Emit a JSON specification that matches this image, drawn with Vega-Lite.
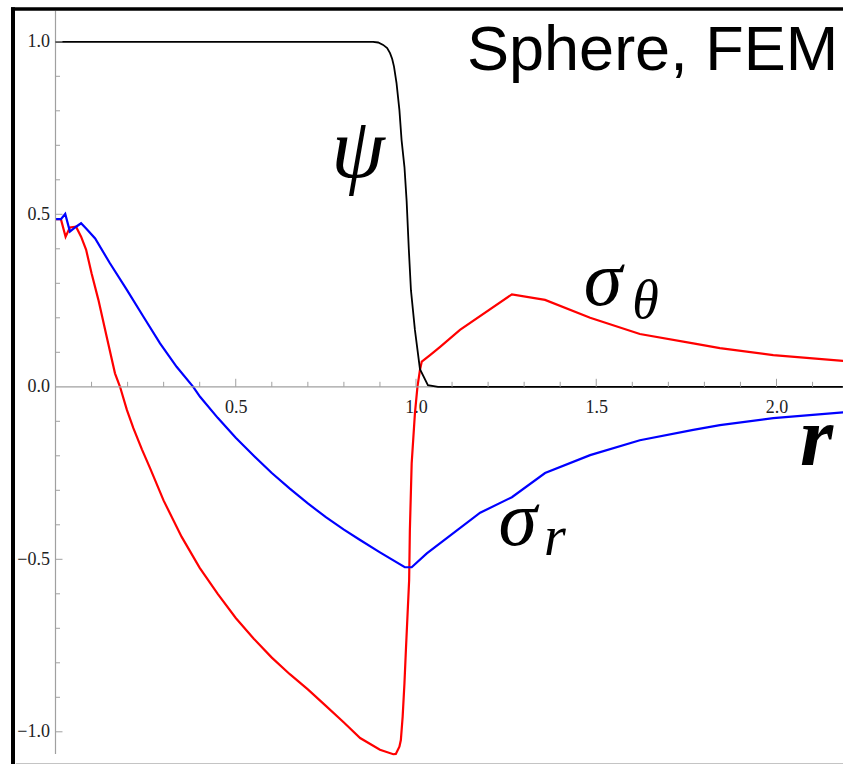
{
  "$schema": "https://vega.github.io/schema/vega-lite/v6.json",
  "width": 830,
  "height": 755,
  "autosize": {"type": "none"},
  "padding": {"left": 13, "top": 9, "right": 0, "bottom": 0},
  "background": "white",
  "config": {"view": {"stroke": null}},
  "datasets": {
    "psi": [
      {"r": 0, "v": 1}, {"r": 0.85, "v": 1}, {"r": 0.881, "v": 1.0}, {"r": 0.895, "v": 0.998},
      {"r": 0.909, "v": 0.991}, {"r": 0.92, "v": 0.982}, {"r": 0.928, "v": 0.967}, {"r": 0.934, "v": 0.95},
      {"r": 0.939, "v": 0.928}, {"r": 0.946, "v": 0.88}, {"r": 0.954, "v": 0.802}, {"r": 0.96, "v": 0.715},
      {"r": 0.968, "v": 0.637}, {"r": 0.974, "v": 0.539}, {"r": 0.98, "v": 0.4}, {"r": 0.986, "v": 0.28},
      {"r": 0.997, "v": 0.165}, {"r": 1.011, "v": 0.051}, {"r": 1.033, "v": 0.005}, {"r": 1.061, "v": 0},
      {"r": 2.184, "v": 0}
    ],
    "sigmaTheta": [
      {"r": 0, "v": 0.486}, {"r": 0.015, "v": 0.486}, {"r": 0.028, "v": 0.435}, {"r": 0.04, "v": 0.462},
      {"r": 0.057, "v": 0.464}, {"r": 0.071, "v": 0.435}, {"r": 0.085, "v": 0.397}, {"r": 0.1, "v": 0.329},
      {"r": 0.119, "v": 0.252}, {"r": 0.142, "v": 0.145}, {"r": 0.165, "v": 0.039}, {"r": 0.179, "v": 0},
      {"r": 0.198, "v": -0.067}, {"r": 0.216, "v": -0.12}, {"r": 0.24, "v": -0.182}, {"r": 0.262, "v": -0.235},
      {"r": 0.3, "v": -0.33}, {"r": 0.35, "v": -0.435}, {"r": 0.4, "v": -0.525}, {"r": 0.45, "v": -0.6},
      {"r": 0.5, "v": -0.67}, {"r": 0.55, "v": -0.73}, {"r": 0.6, "v": -0.785}, {"r": 0.65, "v": -0.833},
      {"r": 0.7, "v": -0.877}, {"r": 0.75, "v": -0.925}, {"r": 0.8, "v": -0.973}, {"r": 0.845, "v": -1.018},
      {"r": 0.9, "v": -1.052}, {"r": 0.937, "v": -1.065}, {"r": 0.944, "v": -1.064}, {"r": 0.954, "v": -1.043},
      {"r": 0.958, "v": -1.024}, {"r": 0.963, "v": -0.956}, {"r": 0.968, "v": -0.859}, {"r": 0.972, "v": -0.763},
      {"r": 0.981, "v": -0.56}, {"r": 0.983, "v": -0.415}, {"r": 0.988, "v": -0.222}, {"r": 0.997, "v": -0.077},
      {"r": 1.004, "v": 0}, {"r": 1.011, "v": 0.049}, {"r": 1.016, "v": 0.073}, {"r": 1.039, "v": 0.092},
      {"r": 1.067, "v": 0.116}, {"r": 1.122, "v": 0.165}, {"r": 1.266, "v": 0.268}, {"r": 1.358, "v": 0.252},
      {"r": 1.483, "v": 0.2}, {"r": 1.621, "v": 0.153}, {"r": 1.769, "v": 0.126}, {"r": 1.843, "v": 0.112},
      {"r": 1.991, "v": 0.092}, {"r": 2.185, "v": 0.075}
    ],
    "sigmaR": [
      {"r": 0, "v": 0.486}, {"r": 0.015, "v": 0.486}, {"r": 0.027, "v": 0.501}, {"r": 0.04, "v": 0.45},
      {"r": 0.057, "v": 0.464}, {"r": 0.071, "v": 0.474}, {"r": 0.085, "v": 0.459}, {"r": 0.11, "v": 0.43},
      {"r": 0.151, "v": 0.358}, {"r": 0.198, "v": 0.281}, {"r": 0.244, "v": 0.203}, {"r": 0.29, "v": 0.126},
      {"r": 0.336, "v": 0.058}, {"r": 0.382, "v": 0}, {"r": 0.401, "v": -0.029}, {"r": 0.45, "v": -0.09},
      {"r": 0.5, "v": -0.148}, {"r": 0.55, "v": -0.2}, {"r": 0.6, "v": -0.25}, {"r": 0.65, "v": -0.295},
      {"r": 0.7, "v": -0.338}, {"r": 0.75, "v": -0.378}, {"r": 0.8, "v": -0.414}, {"r": 0.845, "v": -0.444},
      {"r": 0.9, "v": -0.48}, {"r": 0.969, "v": -0.523}, {"r": 0.988, "v": -0.523}, {"r": 1.03, "v": -0.483},
      {"r": 1.178, "v": -0.365}, {"r": 1.266, "v": -0.32}, {"r": 1.358, "v": -0.25}, {"r": 1.483, "v": -0.198},
      {"r": 1.621, "v": -0.155}, {"r": 1.769, "v": -0.125}, {"r": 1.843, "v": -0.111}, {"r": 1.991, "v": -0.091},
      {"r": 2.185, "v": -0.074}
    ],
    "yMajor": [{"t": -1}, {"t": -0.5}, {"t": 0.5}, {"t": 1}],
    "yMinor": [
      {"t": -0.9}, {"t": -0.8}, {"t": -0.7}, {"t": -0.6}, {"t": -0.4}, {"t": -0.3}, {"t": -0.2}, {"t": -0.1},
      {"t": 0.1}, {"t": 0.2}, {"t": 0.3}, {"t": 0.4}, {"t": 0.6}, {"t": 0.7}, {"t": 0.8}, {"t": 0.9}
    ],
    "xMajor": [{"t": 0.5}, {"t": 1}, {"t": 1.5}, {"t": 2}],
    "xMinor": [
      {"t": 0.1}, {"t": 0.2}, {"t": 0.3}, {"t": 0.4}, {"t": 0.6}, {"t": 0.7}, {"t": 0.8}, {"t": 0.9},
      {"t": 1.1}, {"t": 1.2}, {"t": 1.3}, {"t": 1.4}, {"t": 1.6}, {"t": 1.7}, {"t": 1.8}, {"t": 1.9}, {"t": 2.1}
    ]
  },
  "layer": [
    {
      "description": "Curves: sigma_theta (red), sigma_r (blue), psi (black), with the shared axes",
      "data": {"name": "sigmaTheta"},
      "mark": {"type": "line", "color": "#ff0000", "strokeWidth": 2.2, "clip": true},
      "encoding": {
        "x": {
          "field": "r", "type": "quantitative", "title": null,
          "scale": {"domain": [-0.11789, 2.18447], "nice": false, "zero": false},
          "axis": {
            "orient": "bottom", "offset": -377.2, "values": [0.5, 1, 1.5, 2], "format": ".1f",
            "domain": false, "ticks": false, "grid": false, "labelPadding": 12,
            "labelFont": "Liberation Serif", "labelFontSize": 18, "labelColor": "#222"
          }
        },
        "y": {
          "field": "v", "type": "quantitative", "title": null,
          "scale": {"domain": [-1.09333, 1.09507], "nice": false, "zero": false},
          "axis": {
            "orient": "left", "offset": -42.5, "values": [-1, -0.5, 0, 0.5, 1], "format": ".1f",
            "domain": false, "ticks": false, "grid": false, "labelPadding": 6,
            "labelFont": "Liberation Serif", "labelFontSize": 18, "labelColor": "#222"
          }
        }
      }
    },
    {
      "data": {"name": "sigmaR"},
      "mark": {"type": "line", "color": "#0000ff", "strokeWidth": 2.2, "clip": true},
      "encoding": {
        "x": {"field": "r", "type": "quantitative", "title": null},
        "y": {"field": "v", "type": "quantitative", "title": null}
      }
    },
    {
      "description": "Axis lines through the origin",
      "data": {"values": [{}]},
      "mark": {"type": "rule", "color": "#a0a0a0", "strokeWidth": 1.2},
      "encoding": {
        "x": {"datum": 0}, "x2": {"datum": 2.18447},
        "y": {"datum": 0}
      }
    },
    {
      "data": {"values": [{}]},
      "mark": {"type": "rule", "color": "#a0a0a0", "strokeWidth": 1.2},
      "encoding": {
        "x": {"datum": 0},
        "y": {"datum": -1.064}, "y2": {"datum": 1.09}
      }
    },
    {
      "data": {"name": "psi"},
      "mark": {"type": "line", "color": "#000000", "strokeWidth": 1.8, "clip": true},
      "encoding": {
        "x": {"field": "r", "type": "quantitative", "title": null},
        "y": {"field": "v", "type": "quantitative", "title": null}
      }
    },
    {
      "description": "Tick marks, drawn inward from the axes",
      "data": {"name": "yMajor"},
      "mark": {"type": "rule", "color": "#a0a0a0", "strokeWidth": 1},
      "encoding": {"x": {"datum": 0}, "x2": {"datum": 0.0194}, "y": {"field": "t", "type": "quantitative"}}
    },
    {
      "data": {"name": "yMinor"},
      "mark": {"type": "rule", "color": "#a0a0a0", "strokeWidth": 1},
      "encoding": {"x": {"datum": 0}, "x2": {"datum": 0.0125}, "y": {"field": "t", "type": "quantitative"}}
    },
    {
      "data": {"name": "xMajor"},
      "mark": {"type": "rule", "color": "#a0a0a0", "strokeWidth": 1},
      "encoding": {"x": {"field": "t", "type": "quantitative"}, "y": {"datum": 0}, "y2": {"datum": 0.0232}}
    },
    {
      "data": {"name": "xMinor"},
      "mark": {"type": "rule", "color": "#a0a0a0", "strokeWidth": 1},
      "encoding": {"x": {"field": "t", "type": "quantitative"}, "y": {"datum": 0}, "y2": {"datum": 0.0145}}
    },
    {
      "description": "Frame: heavy black left and top edges, thin grey bottom edge",
      "data": {"values": [{}]},
      "mark": {"type": "rule", "color": "#000000", "strokeWidth": 4},
      "encoding": {"x": {"datum": -0.11789}, "y": {"datum": -1.1}, "y2": {"datum": 1.1}}
    },
    {
      "data": {"values": [{}]},
      "mark": {"type": "rule", "color": "#000000", "strokeWidth": 3.5},
      "encoding": {"x": {"datum": -0.1235}, "x2": {"datum": 2.18447}, "y": {"datum": 1.09507}}
    },
    {
      "data": {"values": [{}]},
      "mark": {"type": "rule", "color": "#b0b0b0", "strokeWidth": 1.5},
      "encoding": {"x": {"datum": -0.11}, "x2": {"datum": 2.18447}, "y": {"datum": -1.09333}}
    },
    {
      "description": "Title and curve names",
      "data": {"values": [{"label": "Sphere, FEM"}]},
      "mark": {"type": "text", "font": "Liberation Sans", "fontSize": 63, "align": "right", "baseline": "alphabetic", "color": "#000"},
      "encoding": {"x": {"datum": 2.171}, "y": {"datum": 0.918}, "text": {"field": "label"}}
    },
    {
      "data": {"values": [{"label": "ψ"}]},
      "mark": {"type": "text", "font": "Liberation Serif", "fontStyle": "italic", "fontSize": 86, "align": "left", "baseline": "alphabetic", "color": "#000"},
      "encoding": {"x": {"datum": 0.765}, "y": {"datum": 0.608}, "text": {"field": "label"}}
    },
    {
      "data": {"values": [{"label": "σ"}]},
      "mark": {"type": "text", "font": "Liberation Serif", "fontStyle": "italic", "fontSize": 78, "align": "left", "baseline": "alphabetic", "color": "#000"},
      "encoding": {"x": {"datum": 1.465}, "y": {"datum": 0.237}, "text": {"field": "label"}}
    },
    {
      "data": {"values": [{"label": "θ"}]},
      "mark": {"type": "text", "font": "Liberation Serif", "fontStyle": "italic", "fontSize": 54, "align": "left", "baseline": "alphabetic", "color": "#000"},
      "encoding": {"x": {"datum": 1.6}, "y": {"datum": 0.2}, "text": {"field": "label"}}
    },
    {
      "data": {"values": [{"label": "σ"}]},
      "mark": {"type": "text", "font": "Liberation Serif", "fontStyle": "italic", "fontSize": 78, "align": "left", "baseline": "alphabetic", "color": "#000"},
      "encoding": {"x": {"datum": 1.229}, "y": {"datum": -0.459}, "text": {"field": "label"}}
    },
    {
      "data": {"values": [{"label": "r"}]},
      "mark": {"type": "text", "font": "Liberation Serif", "fontStyle": "italic", "fontSize": 56, "align": "left", "baseline": "alphabetic", "color": "#000"},
      "encoding": {"x": {"datum": 1.355}, "y": {"datum": -0.488}, "text": {"field": "label"}}
    },
    {
      "data": {"values": [{"label": "r"}]},
      "mark": {"type": "text", "font": "Liberation Serif", "fontStyle": "italic", "fontWeight": "bold", "fontSize": 85, "align": "left", "baseline": "alphabetic", "color": "#000"},
      "encoding": {"x": {"datum": 2.065}, "y": {"datum": -0.227}, "text": {"field": "label"}}
    }
  ]
}
